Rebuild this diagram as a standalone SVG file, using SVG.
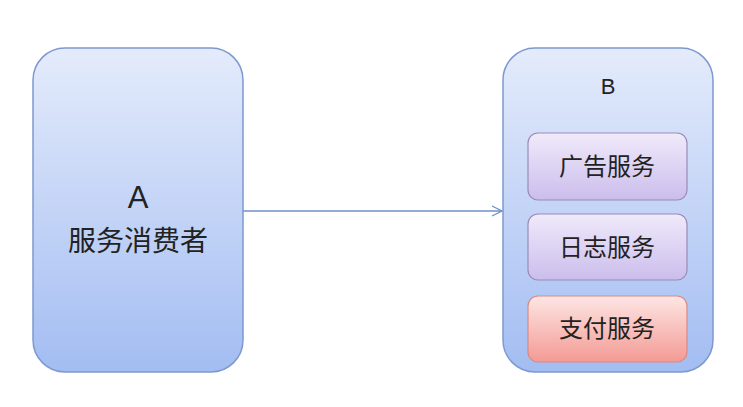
<svg xmlns="http://www.w3.org/2000/svg" width="743" height="407" viewBox="0 0 743 407">
<defs>
<linearGradient id="gb" x1="0" y1="0" x2="0" y2="1"><stop offset="0" stop-color="#e4ebfb"/><stop offset="1" stop-color="#a3bdf2"/></linearGradient>
<linearGradient id="gp" x1="0" y1="0" x2="0" y2="1"><stop offset="0" stop-color="#f0eafb"/><stop offset="1" stop-color="#cbbdec"/></linearGradient>
<linearGradient id="gr" x1="0" y1="0" x2="0" y2="1"><stop offset="0" stop-color="#fde6e4"/><stop offset="1" stop-color="#f49a94"/></linearGradient>
<marker id="ar" markerWidth="12" markerHeight="12" refX="11" refY="6" orient="auto" markerUnits="userSpaceOnUse"><path d="M1,1 L11,6 L1,11" fill="none" stroke="#6f8fc8" stroke-width="1.3"/></marker>
</defs>
<style>
.big{fill:url(#gb);stroke:#7e99cf;stroke-width:1.5}
.svc{stroke:#9a8ab8;stroke-width:1.2}
text{font-family:"Liberation Sans","Noto Sans CJK SC",sans-serif;fill:#222;text-anchor:middle}
.t{font-size:24px}
</style>
<rect width="743" height="407" fill="#fff"/>
<g id="connectors"><line x1="243" y1="211" x2="502" y2="211" stroke="#6f8fc8" stroke-width="1.3" marker-end="url(#ar)"/></g>
<g id="A"><rect class="big" x="33" y="48" width="210" height="324" rx="32"/>
<text x="138" y="208" style="font-size:31px">A</text><text x="138" y="251" style="font-size:28px">服务消费者</text></g>
<g id="B"><rect class="big" x="503" y="48" width="210" height="324" rx="32"/>
<text x="608" y="94" style="font-size:22px">B</text></g>
<g id="ad"><rect class="svc" x="528" y="133" width="159" height="67" rx="10" fill="url(#gp)"/><text class="t" x="607" y="175">广告服务</text></g>
<g id="log"><rect class="svc" x="528" y="214" width="159" height="66" rx="10" fill="url(#gp)"/><text class="t" x="607" y="256">日志服务</text></g>
<g id="pay"><rect x="528" y="296" width="159" height="66" rx="10" fill="url(#gr)" stroke="#d88a86" stroke-width="1.2"/><text class="t" x="607" y="337">支付服务</text></g>
</svg>
